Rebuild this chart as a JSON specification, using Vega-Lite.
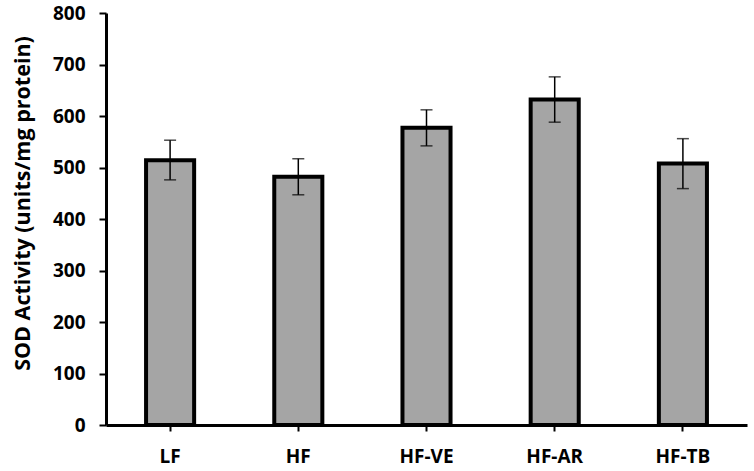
{
  "$schema": "https://vega.github.io/schema/vega-lite/v6.json",
  "autosize": "none",
  "width": 641,
  "height": 412,
  "padding": {"left": 106, "top": 13, "right": 7, "bottom": 46},
  "background": "white",
  "config": {
    "view": {"stroke": null},
    "font": "Open Sans"
  },
  "data": {
    "values": [
      {"group": "LF", "value": 514, "lo": 476, "hi": 553},
      {"group": "HF", "value": 482, "lo": 447, "hi": 517},
      {"group": "HF-VE", "value": 577, "lo": 542, "hi": 612},
      {"group": "HF-AR", "value": 632, "lo": 588, "hi": 676},
      {"group": "HF-TB", "value": 508, "lo": 459, "hi": 556}
    ]
  },
  "encoding": {
    "x": {
      "field": "group",
      "type": "nominal",
      "sort": null,
      "scale": {"paddingInner": 0.625, "paddingOuter": 0.3125},
      "axis": {
        "title": null,
        "labelAngle": 0,
        "labelFont": "Open Sans",
        "labelFontWeight": "bold",
        "labelFontSize": 19,
        "labelColor": "black",
        "labelPadding": 16,
        "domainColor": "black",
        "domainWidth": 3,
        "tickColor": "black",
        "tickWidth": 2,
        "tickSize": 6,
        "grid": false
      }
    }
  },
  "layer": [
    {
      "mark": {"type": "bar", "fill": "#a5a5a5", "stroke": "black", "strokeWidth": 4},
      "encoding": {
        "y": {
          "field": "value",
          "type": "quantitative",
          "scale": {"domain": [0, 800], "nice": false},
          "axis": {
            "title": "SOD Activity (units/mg protein)",
            "titleFont": "Open Sans",
            "titleFontWeight": "bold",
            "titleFontSize": 21.5,
            "titleColor": "black",
            "titlePadding": 18,
            "titleY": 190,
            "values": [0, 100, 200, 300, 400, 500, 600, 700, 800],
            "labelFont": "Open Sans",
            "labelFontWeight": "bold",
            "labelFontSize": 19,
            "labelColor": "black",
            "labelPadding": 14,
            "domainColor": "black",
            "domainWidth": 3,
            "tickColor": "black",
            "tickWidth": 2,
            "tickSize": 7,
            "grid": false
          }
        }
      }
    },
    {
      "mark": {"type": "rule", "color": "black", "strokeWidth": 1.5},
      "encoding": {
        "y": {"field": "lo", "type": "quantitative"},
        "y2": {"field": "hi"}
      }
    },
    {
      "mark": {"type": "tick", "color": "black", "thickness": 1.5, "size": 12},
      "encoding": {"y": {"field": "lo", "type": "quantitative"}}
    },
    {
      "mark": {"type": "tick", "color": "black", "thickness": 1.5, "size": 12},
      "encoding": {"y": {"field": "hi", "type": "quantitative"}}
    }
  ]
}
